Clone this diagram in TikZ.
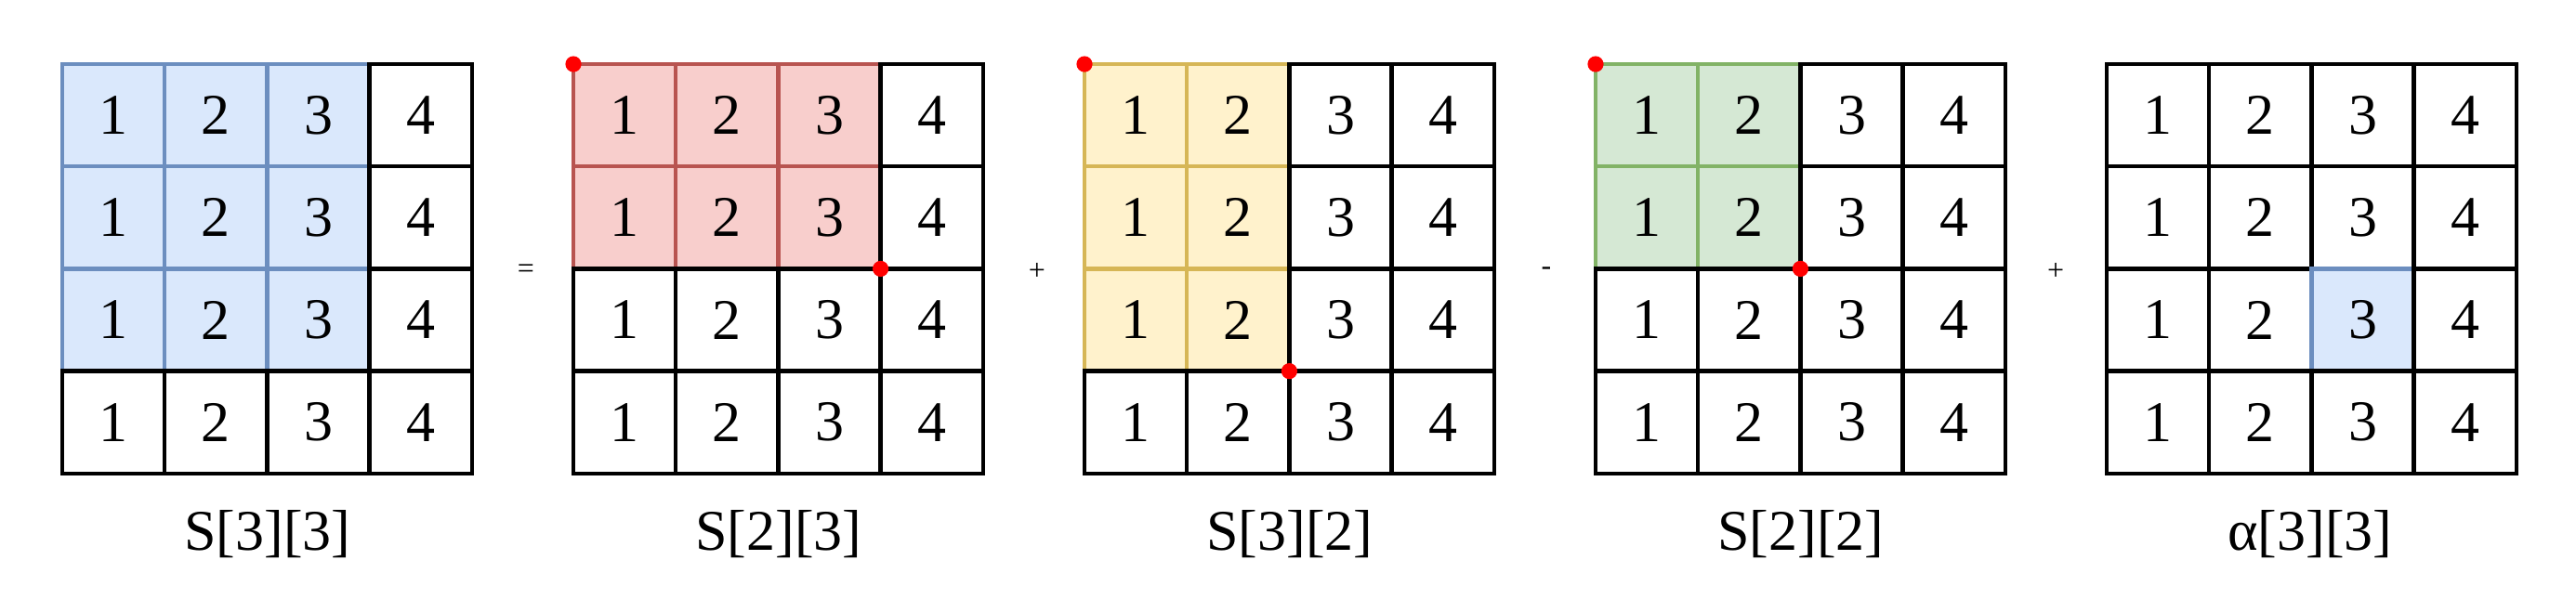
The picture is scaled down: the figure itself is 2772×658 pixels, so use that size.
\documentclass[tikz,border=0pt]{standalone}
\usepackage{fontspec}
\setmainfont{Liberation Serif}
\definecolor{bluef}{HTML}{DAE8FC}\definecolor{blued}{HTML}{6C8EBF}
\definecolor{redf}{HTML}{F8CECC}\definecolor{redd}{HTML}{B85450}
\definecolor{yelf}{HTML}{FFF2CC}\definecolor{yeld}{HTML}{D6B656}
\definecolor{grnf}{HTML}{D5E8D4}\definecolor{grnd}{HTML}{82B366}
\tikzset{
  cell/.style={rectangle, line width=1.1pt, minimum size=27.55pt, inner sep=0pt, outer sep=0pt,
    font=\fontsize{15.5}{18}\selectfont},
  reddot/.style={circle, fill=red, draw=none, inner sep=0pt, minimum size=4.3pt},
  lab/.style={font=\fontsize{15.5}{18}\selectfont, inner sep=0pt},
  op/.style={font=\fontsize{8}{10}\selectfont, inner sep=0pt}
}
\begin{document}
\begin{tikzpicture}[x=0.25pt, y=-0.25pt]
\useasboundingbox (0,0) rectangle (2772,658);
\foreach \g/\xo/\ra/\rb/\ca/\cb/\col in {1/67/1/3/1/3/blue, 2/617/1/2/1/3/red, 3/1167/1/3/1/2/yel, 4/1717/1/2/1/2/grn, 5/2267/3/3/3/3/blue}{
  \foreach \r in {1,...,4}{
    \foreach \c in {1,...,4}{
      \pgfmathtruncatemacro{\inside}{and(and(\r>=\ra,\r<=\rb),and(\c>=\ca,\c<=\cb))}
      \ifnum\inside=1
        \colorlet{cf}{\col f}\colorlet{cd}{\col d}
      \else
        \colorlet{cf}{white}\colorlet{cd}{black}
      \fi
      \node[cell, draw=cd, fill=cf] (g\g-\r-\c) at ({\xo+(\c-0.5)*110.2},{69+(\r-0.5)*110.2}) {\c};
    }
  }
}
% red corner dots
\node[reddot] (d2a) at (g2-1-1.north west) {};
\node[reddot] (d2b) at (g2-2-3.south east) {};
\node[reddot] (d3a) at (g3-1-1.north west) {};
\node[reddot] (d3b) at (g3-3-2.south east) {};
\node[reddot] (d4a) at (g4-1-1.north west) {};
\node[reddot] (d4b) at (g4-2-2.south east) {};
% labels
\node[lab] (l1) at (288,575) {S[3][3]};
\node[lab] (l2) at (838,575) {S[2][3]};
\node[lab] (l3) at (1388,575) {S[3][2]};
\node[lab] (l4) at (1938,575) {S[2][2]};
\node[lab] (l5) at (2486,575) {α[3][3]};
% operators
\node[op] (o1) at (566,292) {=};
\node[op] (o2) at (1116,292) {+};
\node[op] (o3) at (1664,292) {-};
\node[op] (o4) at (2212,292) {+};
\end{tikzpicture}
\end{document}
